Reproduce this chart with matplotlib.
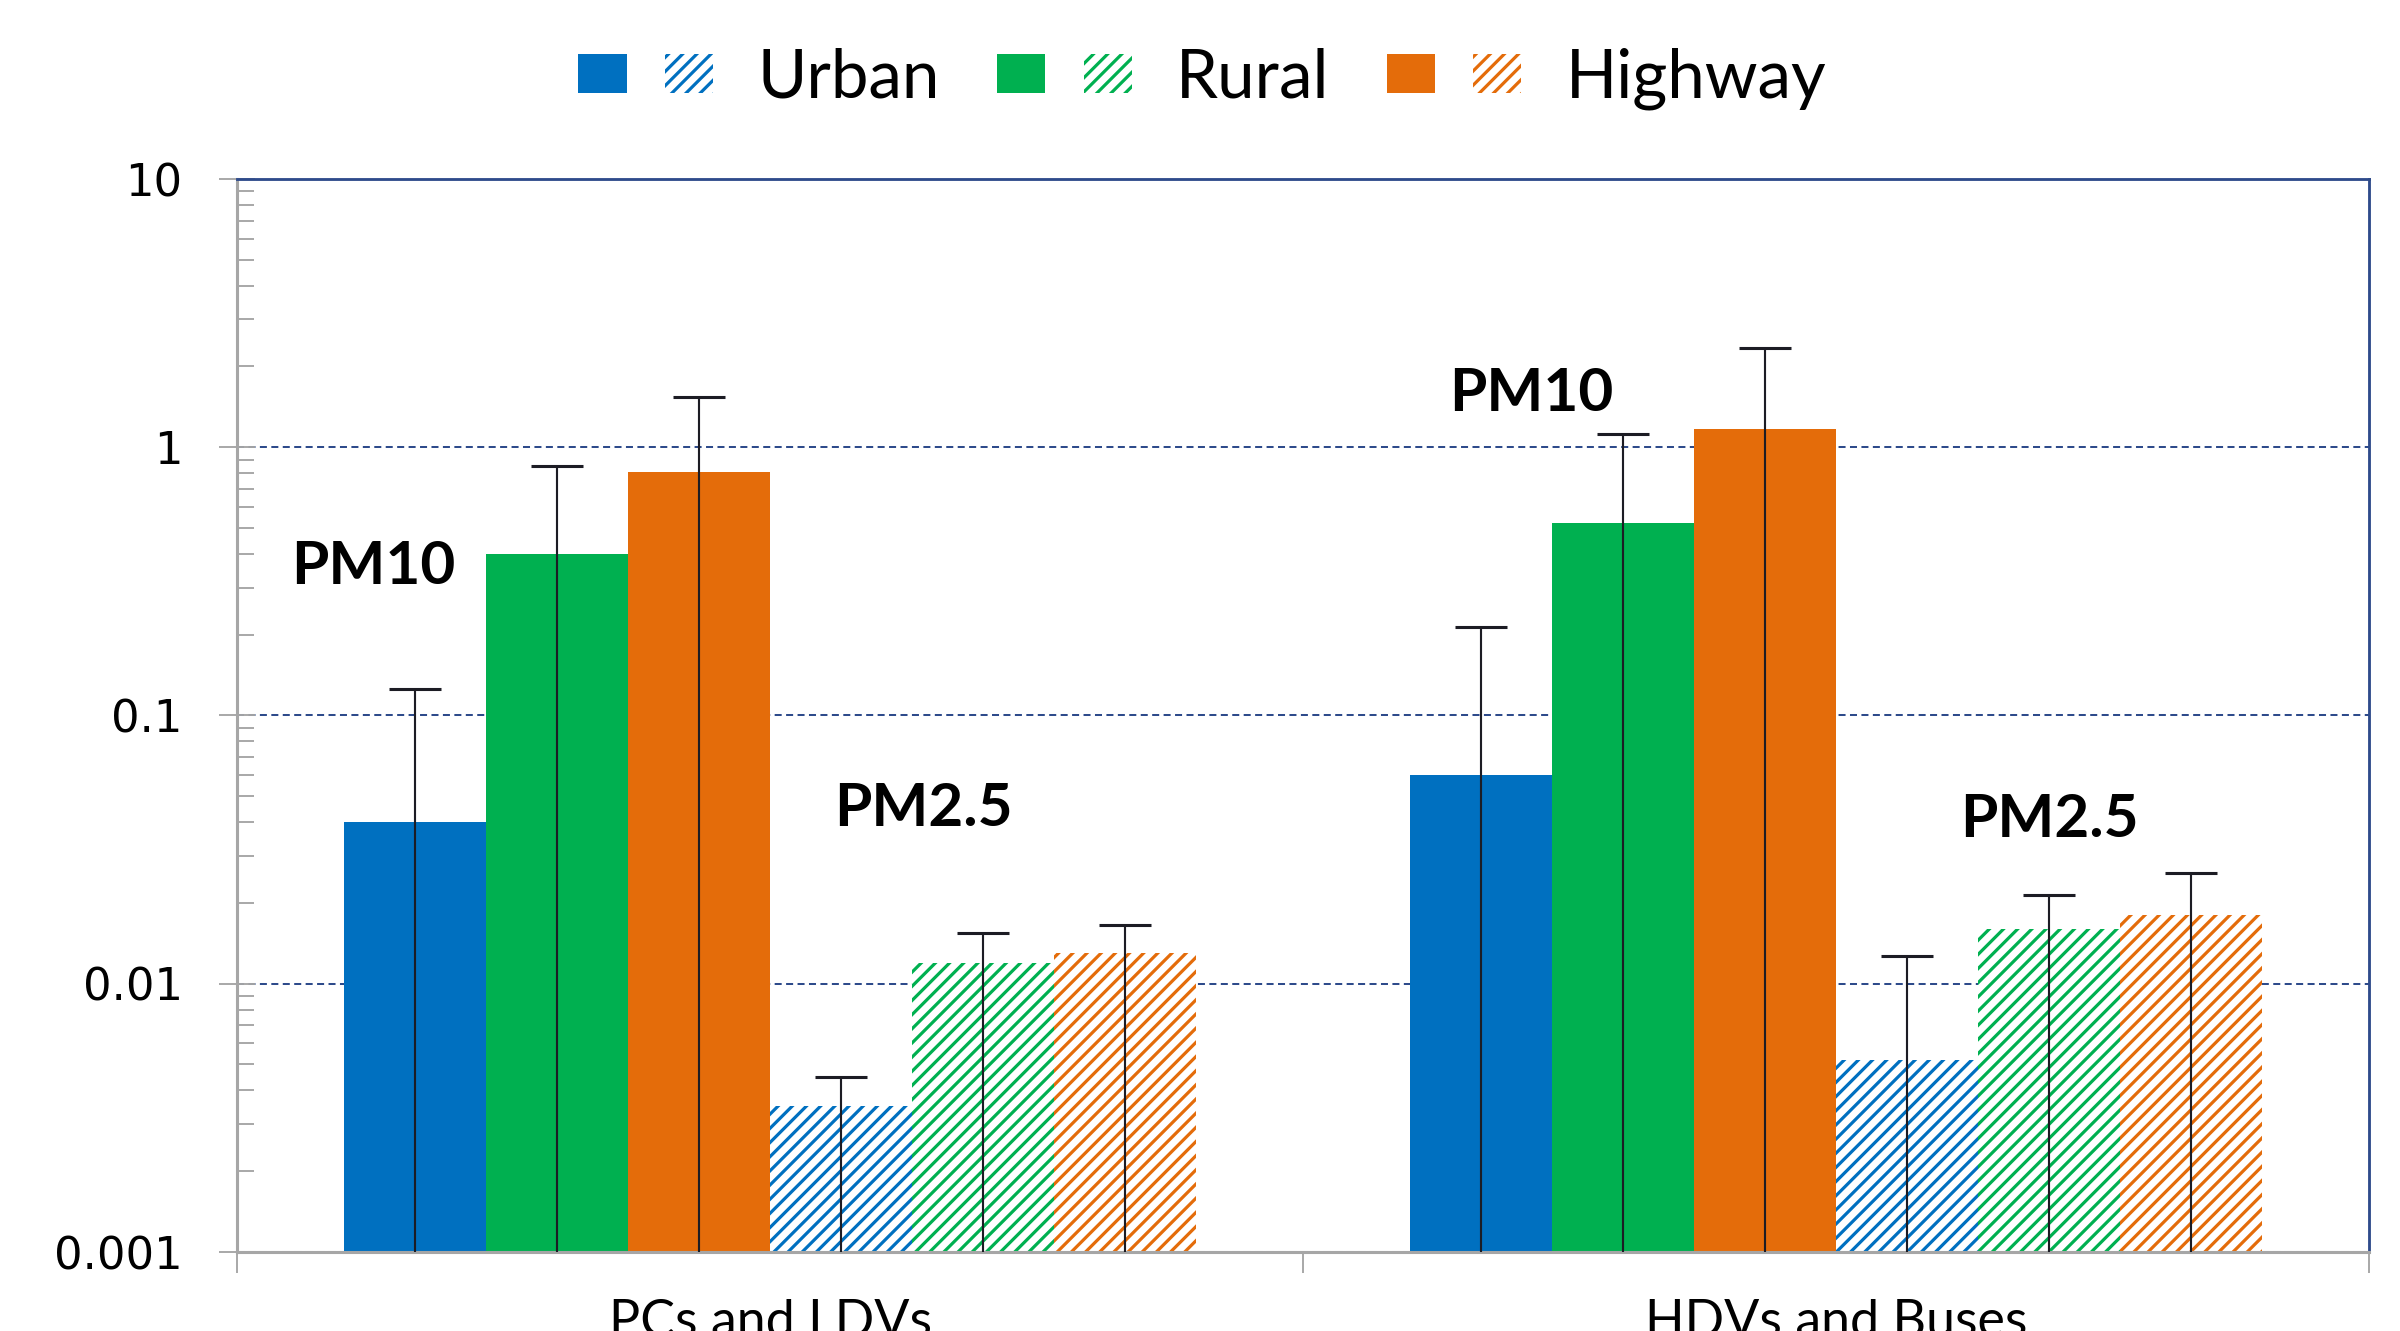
import warnings
import numpy as np
import matplotlib
matplotlib.use("Agg")
import matplotlib.pyplot as plt
from matplotlib.patches import Patch
from matplotlib.legend_handler import HandlerTuple
from matplotlib.ticker import LogLocator, NullFormatter

warnings.filterwarnings("ignore")

# ---- data -------------------------------------------------------------
categories = ["PCs and LDVs", "HDVs and Buses"]
areas = ["Urban", "Rural", "Highway"]
area_colors = ["#0070C0", "#00B050", "#E46C0A"]

# PM10 mean values and upper error (same unit as the axis)
pm10_urban = [0.040, 0.060]
pm10_rural = [0.40, 0.52]
pm10_highway = [0.81, 1.17]
pm10_urban_err = [0.085, 0.154]
pm10_rural_err = [0.45, 0.60]
pm10_highway_err = [0.73, 1.18]

# PM2.5 mean values and upper error
pm25_urban = [0.0035, 0.0052]
pm25_rural = [0.012, 0.016]
pm25_highway = [0.013, 0.018]
pm25_urban_err = [0.0010, 0.0075]
pm25_rural_err = [0.0035, 0.0054]
pm25_highway_err = [0.0035, 0.0078]

y_ticks = [0.001, 0.01, 0.1, 1, 10]
y_tick_labels = ["0.001", "0.01", "0.1", "1", "10"]

# ---- style ------------------------------------------------------------
W, H, DPI = 2400, 1331, 85
plt.rcParams["font.family"] = ["Lato", "DejaVu Sans"]
plt.rcParams["hatch.linewidth"] = 2.7
axis_gray = "#A6A6A6"
frame_navy = "#2E4B8B"
pm25_hatch = "//"

fig = plt.figure(figsize=((W + 0.01) / DPI, (H + 0.01) / DPI), dpi=DPI)
ax = fig.add_axes([237 / W, 1 - 1252 / H, (2369 - 237) / W, (1252 - 179) / H])

series = [
    (pm10_urban, pm10_urban_err, area_colors[0], False),
    (pm10_rural, pm10_rural_err, area_colors[1], False),
    (pm10_highway, pm10_highway_err, area_colors[2], False),
    (pm25_urban, pm25_urban_err, area_colors[0], True),
    (pm25_rural, pm25_rural_err, area_colors[1], True),
    (pm25_highway, pm25_highway_err, area_colors[2], True),
]

x = np.arange(len(categories))
n = len(series)
width = 0.8 / n

ax.set_yscale("log")
for k, (vals, err, color, hatched) in enumerate(series):
    vals = np.asarray(vals)
    err = np.asarray(err)
    pos = x - 0.4 + width * (k + 0.5)
    if hatched:
        ax.bar(pos, vals, width, facecolor="white", edgecolor=color,
               hatch=pm25_hatch, linewidth=0, zorder=2)
    else:
        ax.bar(pos, vals, width, color=color, linewidth=0, zorder=2)
    # stem runs from the axis floor up to mean + error
    eb = ax.errorbar(pos, vals, yerr=[vals, err], fmt="none",
                     ecolor="#1c1c24", elinewidth=1.8, capsize=22,
                     capthick=2.6, zorder=3)
    for cap in eb[1]:
        cap.set_color("#5a5a5a")

ax.set_xlim(-0.5, 1.5)
ax.set_ylim(1e-3, 10)

# y axis
ax.set_yticks(y_ticks, labels=y_tick_labels, fontfamily="DejaVu Sans",
              fontsize=38)
ax.yaxis.set_minor_locator(LogLocator(base=10, subs=np.arange(2, 10)))
ax.yaxis.set_minor_formatter(NullFormatter())
ax.tick_params(axis="y", which="major", direction="inout", length=30,
               width=1.6, color=axis_gray, pad=31)
ax.tick_params(axis="y", which="minor", direction="in", length=14,
               width=1.6, color=axis_gray)

# x axis: boundaries as ticks, category names centred
ax.set_xticks([-0.5, 0.5, 1.5])
ax.xaxis.set_major_formatter(NullFormatter())
ax.set_xticks(x, labels=categories, minor=True, fontsize=44)
ax.tick_params(axis="x", which="major", direction="out", length=18,
               width=1.6, color=axis_gray)
ax.tick_params(axis="x", which="minor", length=0, pad=40)

ax.yaxis.grid(True, which="major", color=frame_navy, linewidth=1.7,
              linestyle=(0, (3.5, 2.2)))
ax.set_axisbelow(True)

for side in ("left", "bottom"):
    ax.spines[side].set_color(axis_gray)
    ax.spines[side].set_linewidth(2.6)
for side in ("top", "right"):
    ax.spines[side].set_color(frame_navy)
    ax.spines[side].set_linewidth(2.4)

# group annotations
label_kw = dict(fontsize=51, fontweight="bold", ha="center", va="center",
                zorder=4)
ax.text(-0.372, 0.358, "PM10", **label_kw)
ax.text(0.144, 0.0448, "PM2.5", **label_kw)
ax.text(0.714, 1.585, "PM10", **label_kw)
ax.text(1.200, 0.0408, "PM2.5", **label_kw)

# legend: solid swatch for PM10, hatched swatch for PM2.5
handles = [
    (Patch(facecolor=c, linewidth=0),
     Patch(facecolor="white", edgecolor=c, hatch=pm25_hatch, linewidth=0))
    for c in area_colors
]
fig.legend(handles, areas, loc="center", bbox_to_anchor=(0.501, 0.941),
           ncol=3, frameon=False, fontsize=57,
           handler_map={tuple: HandlerTuple(ndivide=None, pad=0.57)},
           handlelength=2.0, handleheight=0.5, handletextpad=0.66,
           columnspacing=0.85)

fig.savefig("out.png", dpi=DPI, facecolor="white")
